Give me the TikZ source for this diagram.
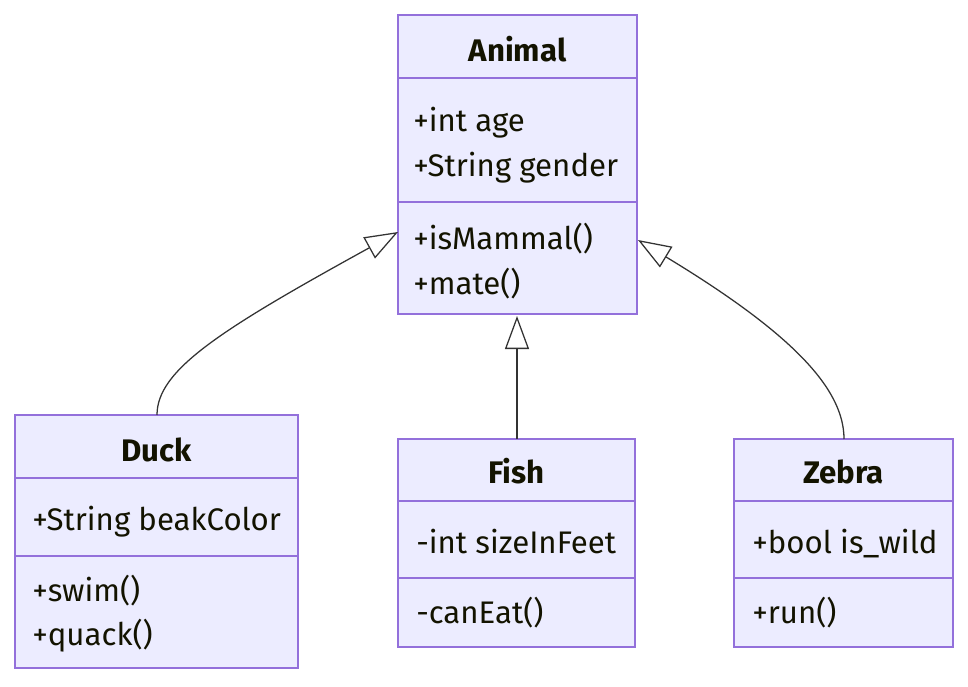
\documentclass[tikz,border=0pt]{standalone}
\usepackage{fontspec}
\setmainfont{Fira Sans}
\usetikzlibrary{arrows.meta,fit}
\definecolor{boxfill}{HTML}{ECECFF}
\definecolor{boxstroke}{HTML}{9370DB}
\definecolor{edgecol}{HTML}{333333}
\definecolor{txtcol}{HTML}{131300}
\tikzset{
  classbox/.style={draw=boxstroke, fill=boxfill, line width=1.4pt, inner sep=0pt},
  divider/.style={draw=boxstroke, line width=1.4pt},
  member/.style={anchor=base west, inner sep=0pt, text=txtcol, font=\fontsize{23.4}{28}\selectfont},
  classtitle/.style={anchor=base, inner sep=0pt, text=txtcol, font=\fontsize{23.4}{28}\selectfont\bfseries},
  inherit/.style={draw=edgecol, line width=0.95pt, -{Triangle[length=24.75pt, width=18pt, fill=white, line width=0.95pt]}}
}
\begin{document}
\begin{tikzpicture}[x=0.75pt, y=-0.75pt]
\useasboundingbox (0,0) rectangle (968,686);
% Animal
\node[classbox, fit={(398,15) (637,314)}] (animal) {};
\draw[divider] (398,78) -- (637,78);
\draw[divider] (398,202) -- (637,202);
\node[classtitle] (animalT) at (517.5,61) {Animal};
\node[member] (animalA1) at (413,131) {+int age};
\node[member] (animalA2) at (413,176) {+String gender};
\node[member] (animalM1) at (413,249) {+isMammal()};
\node[member] (animalM2) at (413,294) {+mate()};
% Duck
\node[classbox, fit={(15,415) (298,668)}] (duck) {};
\draw[divider] (15,478) -- (298,478);
\draw[divider] (15,556) -- (298,556);
\node[classtitle] (duckT) at (156.5,461) {Duck};
\node[member] (duckA1) at (32,530) {+String beakColor};
\node[member] (duckM1) at (32,601) {+swim()};
\node[member] (duckM2) at (32,645) {+quack()};
% Fish
\node[classbox, fit={(398,439) (635,647)}] (fish) {};
\draw[divider] (398,501) -- (635,501);
\draw[divider] (398,578) -- (635,578);
\node[classtitle] (fishT) at (516.5,483) {Fish};
\node[member] (fishA1) at (416,553) {-int sizeInFeet};
\node[member] (fishM1) at (416,623) {-canEat()};
% Zebra
\node[classbox, fit={(734,439) (953,647)}] (zebra) {};
\draw[divider] (734,501) -- (953,501);
\draw[divider] (734,578) -- (953,578);
\node[classtitle] (zebraT) at (843.5,483) {Zebra};
\node[member] (zebraA1) at (752,553) {+bool is\_wild};
\node[member] (zebraM1) at (752,623) {+run()};
% edges
\coordinate (tipDuck) at (398,232);
\coordinate (tipFish) at (517,316);
\coordinate (tipZebra) at (638,240);
\coordinate (srcDuck) at (157,415);
\coordinate (srcFish) at (517,439);
\coordinate (srcZebra) at (844,439);
\draw[inherit] (srcDuck) .. controls (157,370) and (220,330) .. (tipDuck);
\draw[inherit] (srcFish) -- (tipFish);
\draw[inherit] (srcZebra) .. controls (844,390) and (795,335) .. (tipZebra);
\end{tikzpicture}
\end{document}
